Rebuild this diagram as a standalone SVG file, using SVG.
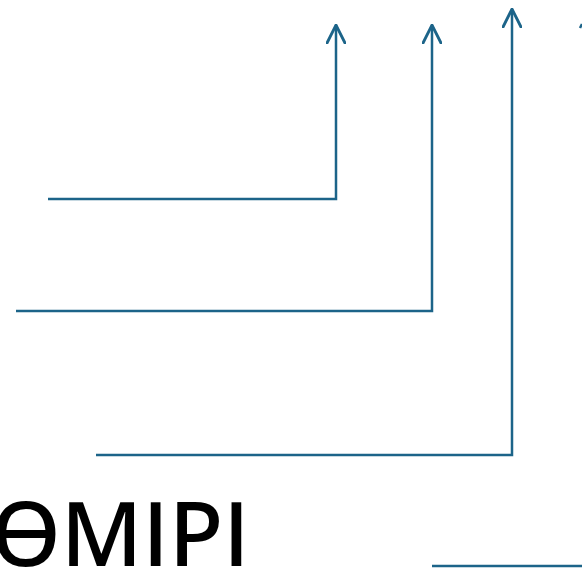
<svg xmlns="http://www.w3.org/2000/svg" width="582" height="568" viewBox="0 0 582 568">
  <style>
    .conn { fill: none; stroke: #1c6489; stroke-width: 2.5; }
    .head { fill: none; stroke: #1c6489; stroke-width: 2.8; stroke-linecap: round; stroke-linejoin: miter; }
    .title { font-family: "Noto Sans", "Liberation Sans", sans-serif; font-size: 89px; font-weight: 500; fill: #000; }
  </style>
  <defs>
    <marker id="arrow" viewBox="0 0 20 20" refX="19" refY="10" markerWidth="20" markerHeight="20" markerUnits="userSpaceOnUse" orient="auto">
      <path d="M1,1 L19,10 L1,19" class="head"/>
    </marker>
  </defs>
  <rect width="582" height="568" fill="#fff"/>
  <g id="connectors">
    <polyline class="conn" points="48,199 336,199 336,25" marker-end="url(#arrow)"/>
    <polyline class="conn" points="16,311 432,311 432,25" marker-end="url(#arrow)"/>
    <polyline class="conn" points="96,455 512,455 512,9" marker-end="url(#arrow)"/>
    <line class="conn" x1="432" y1="566" x2="582" y2="566"/>
    <line class="conn" x1="580" y1="28" x2="582" y2="24"/>
  </g>
  <g id="title">
    <text class="title" x="-9" y="566">ӨМІРІ</text>
  </g>
</svg>
